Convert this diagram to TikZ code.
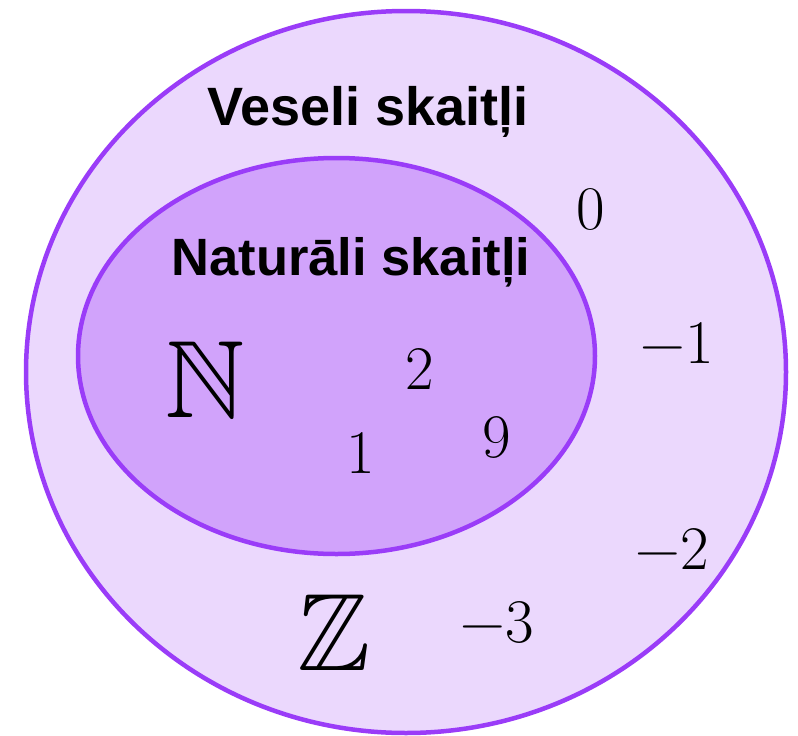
\documentclass[tikz,border=0pt]{standalone}
\usepackage{amssymb}
\usepackage[no-math]{fontspec}
\newfontfamily\labelfont{Liberation Sans}
\usetikzlibrary{shapes.geometric}

\definecolor{setline}{HTML}{9A3CF8}
\definecolor{zfill}{HTML}{EBD8FD}
\definecolor{nfill}{HTML}{D1A3FB}

\begin{document}
\begin{tikzpicture}[
  x=1pt, y=-1pt,
  set/.style={ellipse, draw=setline, line width=4.5pt, inner sep=0pt},
  title/.style={font=\labelfont\bfseries\fontsize{54}{60}\selectfont, anchor=base},
  num/.style={font=\fontsize{62}{70}\selectfont, anchor=base, inner sep=0pt},
  letter/.style={font=\fontsize{110}{120}\selectfont, anchor=base, inner sep=0pt}
]
\useasboundingbox (0,0) rectangle (798,736);
% sets
\node[set, fill=zfill, minimum width=760pt, minimum height=722pt] (ints) at (406,372) {};
\node[set, fill=nfill, minimum width=517pt, minimum height=396pt] (nats) at (336.5,356) {};
% titles
\node[title] (intsname) at (368,125) {Veseli skaitļi};
\node[title, font=\labelfont\bfseries\fontsize{52.5}{60}\selectfont] (natsname) at (351,275) {Naturāli skaitļi};
\node[letter] (N) at (205,417) {$\mathbb{N}$};
\node[letter] (Z) at (334,670) {$\mathbb{Z}$};
% elements
\node[num] (one) at (361,473) {1};
\node[num] (two) at (420,389) {2};
\node[num] (nine) at (497,457) {9};
\node[num] (zero) at (591,229) {0};
\node[num] (mone) at (677,363) {−1};
\node[num] (mtwo) at (672,569) {−2};
\node[num] (mthree) at (497,642) {−3};
\end{tikzpicture}
\end{document}
